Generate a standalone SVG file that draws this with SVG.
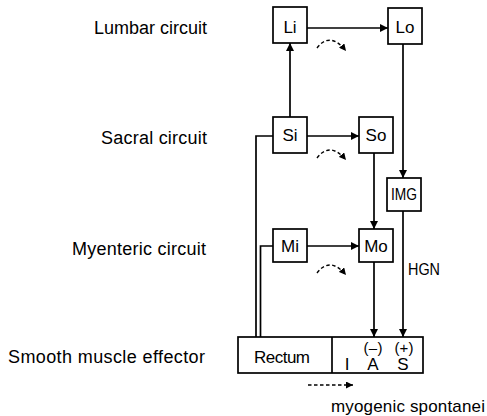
<svg xmlns="http://www.w3.org/2000/svg" width="487" height="416" viewBox="0 0 487 416">
<style>
text{font-family:"Liberation Sans",Arial,sans-serif;fill:#000}
.lab{font-size:18px;text-anchor:end}
.bt{font-size:17px;text-anchor:middle}
.box{fill:#fff;stroke:#000;stroke-width:1.7}
.ln{fill:none;stroke:#000;stroke-width:1.7}
.ds{fill:none;stroke:#000;stroke-width:1.4;stroke-dasharray:3.5 2.5}
</style>
<defs>
<marker id="ah" viewBox="0 0 10 10" refX="10" refY="5" markerWidth="8" markerHeight="8" markerUnits="userSpaceOnUse" orient="auto">
<path d="M0,0 L10,5 L0,10 z" fill="#000"/>
</marker>
<marker id="ahs" viewBox="0 0 10 10" refX="10" refY="5" markerWidth="7" markerHeight="7" markerUnits="userSpaceOnUse" orient="auto">
<path d="M0,0 L10,5 L0,10 z" fill="#000"/>
</marker>
</defs>
<g id="labels">
<text class="lab" x="207" y="34" textLength="113" lengthAdjust="spacing">Lumbar circuit</text>
<text class="lab" x="207" y="144" textLength="106" lengthAdjust="spacing">Sacral circuit</text>
<text class="lab" x="206" y="255" textLength="134" lengthAdjust="spacing">Myenteric circuit</text>
<text class="lab" x="205" y="363" textLength="197" lengthAdjust="spacing">Smooth muscle effector</text>
<text x="408" y="275" style="font-size:16px" textLength="32" lengthAdjust="spacingAndGlyphs">HGN</text>
<text x="331" y="412" style="font-size:17px" textLength="154" lengthAdjust="spacing">myogenic spontanei</text>
</g>
<g id="connectors">
<line class="ln" x1="307" y1="28" x2="388" y2="28" marker-end="url(#ah)"/>
<line class="ln" x1="290" y1="117" x2="290" y2="43" marker-end="url(#ah)"/>
<line class="ln" x1="307" y1="136" x2="359" y2="136" marker-end="url(#ah)"/>
<line class="ln" x1="403" y1="44" x2="403" y2="178" marker-end="url(#ah)"/>
<line class="ln" x1="374" y1="153" x2="374" y2="229" marker-end="url(#ah)"/>
<line class="ln" x1="307" y1="246" x2="359" y2="246" marker-end="url(#ah)"/>
<line class="ln" x1="374" y1="262" x2="374" y2="337" marker-end="url(#ah)"/>
<line class="ln" x1="403" y1="211" x2="403" y2="337" marker-end="url(#ah)"/>
<polyline class="ln" points="273,136 256,136 256,337"/>
<polyline class="ln" points="273,246 260.5,246 260.5,337"/>
<path class="ds" d="M317,48 Q330,31 346,51" marker-end="url(#ahs)"/>
<path class="ds" d="M317,158 Q330,141 346,160" marker-end="url(#ahs)"/>
<path class="ds" d="M317,273 Q330,256 346,275" marker-end="url(#ahs)"/>
<line class="ds" x1="308" y1="385" x2="353" y2="385" marker-end="url(#ahs)"/>
</g>
<g id="Li"><rect class="box" x="273" y="7" width="34" height="36"/><text class="bt" x="290" y="33">Li</text></g>
<g id="Lo"><rect class="box" x="388" y="8" width="34" height="36"/><text class="bt" x="405" y="33">Lo</text></g>
<g id="Si"><rect class="box" x="273" y="117" width="34" height="36"/><text class="bt" x="290" y="141">Si</text></g>
<g id="So"><rect class="box" x="359" y="117" width="34" height="36"/><text class="bt" x="376" y="141">So</text></g>
<g id="IMG"><rect class="box" x="387" y="178" width="34" height="33"/><text class="bt" x="404" y="200" textLength="26" lengthAdjust="spacingAndGlyphs">IMG</text></g>
<g id="Mi"><rect class="box" x="273" y="229" width="34" height="33"/><text class="bt" x="290" y="252">Mi</text></g>
<g id="Mo"><rect class="box" x="359" y="229" width="34" height="33"/><text class="bt" x="376" y="252">Mo</text></g>
<g id="effector">
<rect class="box" x="238" y="337" width="185" height="36"/>
<line class="ln" x1="332" y1="337" x2="332" y2="373"/>
<text class="bt" x="282" y="363" textLength="56" lengthAdjust="spacing">Rectum</text>
<text class="bt" x="347" y="370">I</text>
<text class="bt" x="373" y="370">A</text>
<text class="bt" x="403" y="370">S</text>
<text class="bt" x="373" y="353" style="font-size:15px" textLength="19" lengthAdjust="spacing">(–)</text>
<text class="bt" x="404" y="353" style="font-size:15px" textLength="19" lengthAdjust="spacing">(+)</text>
</g>
</svg>
